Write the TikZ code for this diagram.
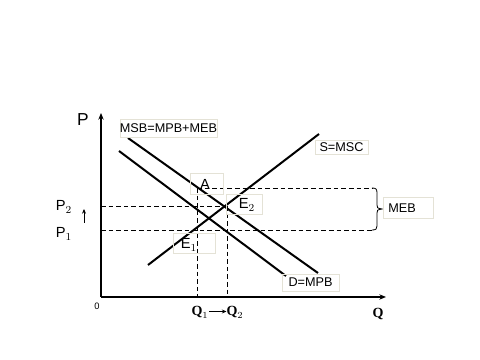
\documentclass[tikz,border=0pt]{standalone}
\usepackage{fontspec}
\setmainfont{Liberation Sans}
\newfontfamily\qfont{Liberation Serif}
\usetikzlibrary{arrows.meta}
\definecolor{boxgray}{RGB}{228,226,214}
\tikzset{
  curve/.style={line width=1.5pt},
  axis/.style={line width=1.1pt,-{Stealth[length=5pt,width=4pt]}},
  guide/.style={line width=0.6pt,dash pattern=on 3.5pt off 2.2pt},
  lbl/.style={draw=boxgray,line width=0.5pt,inner sep=0pt,font=\fontsize{9.5}{10}\selectfont},
  plain/.style={inner sep=0pt},
  qlbl/.style={inner sep=0pt,font=\qfont\bfseries\fontsize{10.5}{11}\selectfont}
}
\begin{document}
\begin{tikzpicture}[x=0.75pt,y=-0.75pt]
\useasboundingbox (0,0) rectangle (480,360);
% axes
\coordinate (O) at (101,297);
\coordinate (Ptop) at (101,113);
\coordinate (Qend) at (386,297);
\draw[axis] (O) -- (Ptop);
\draw[axis] (O) -- (Qend);
% curves
\coordinate (msbA) at (128,138);
\coordinate (msbB) at (318,273);
\coordinate (dA) at (119,151);
\coordinate (dB) at (286,276);
\coordinate (sA) at (148,265);
\coordinate (sB) at (319,134);
\draw[curve] (msbA) -- (msbB);
\draw[curve] (dA) -- (dB);
\draw[curve] (sA) -- (sB);
% guides
\coordinate (Apt) at (197,188);
\coordinate (Q1b) at (197,297);
\coordinate (E2pt) at (227,206);
\coordinate (Q2b) at (227,297);
\coordinate (P2a) at (101,206);
\coordinate (P1a) at (101,230);
\coordinate (brTop) at (372,188);
\coordinate (brBot) at (372,230);
\draw[guide] (Apt) -- (Q1b);
\draw[guide] (E2pt) -- (Q2b);
\draw[guide] (P2a) -- (E2pt);
\draw[guide] (P1a) -- (brBot);
\draw[guide] (Apt) -- (brTop);
% brace
\coordinate (brTip) at (382,209);
\draw[line width=0.6pt] (brTop) .. controls (376,188) and (377,189) .. (377,193)
  -- (377,205) .. controls (377,208) .. (brTip)
  .. controls (377,210) .. (377,213) -- (377,226)
  .. controls (377,229) and (376,230) .. (brBot);
% boxed labels
\node[lbl,minimum width=72.75pt,minimum height=13.5pt] (msb) at (168.5,128) {MSB=MPB+MEB};
\node[lbl,minimum width=39.75pt,minimum height=10.5pt] (smsc) at (341.5,147) {S=MSC};
\node[lbl,minimum width=24.75pt,minimum height=15.75pt] (labA) at (206.5,183.5) {};
\node[plain,font=\fontsize{11}{12}\selectfont] at (205,184) {A};
\node[lbl,minimum width=27pt,minimum height=15pt] (labE2) at (244,204) {};
\node[plain,font=\fontsize{11}{12}\selectfont] at (247,205) {E$_2$};
\node[lbl,minimum width=31.5pt,minimum height=15pt] (labE1) at (194,243) {};
\node[plain,font=\fontsize{11}{12}\selectfont] at (189,245) {E$_1$};
\node[lbl,minimum width=37.5pt,minimum height=15.75pt] (meb) at (408,207.5) {};
\node[plain,font=\fontsize{9.5}{10}\selectfont,anchor=west] at (388,208) {MEB};
\node[lbl,minimum width=42.75pt,minimum height=12.75pt] (dmpb) at (310.5,282.5) {D=MPB};
% axis labels
\node[plain,font=\fontsize{13}{14}\selectfont] (labP) at (83,120) {P};
\node[plain,font=\fontsize{11}{12}\selectfont] (labP2) at (64,207) {P$_2$};
\node[plain,font=\fontsize{11}{12}\selectfont] (labP1) at (64,234) {P$_1$};
\coordinate (upA) at (84,223);
\coordinate (upB) at (84,209);
\draw[line width=0.7pt,-{Stealth[length=3.5pt,width=3pt]}] (upA) -- (upB);
\node[plain,font=\fontsize{7}{8}\selectfont] (zero) at (97,306) {0};
\node[qlbl] (q1) at (200,312.5) {Q$_1$};
\node[qlbl] (q2) at (235,312.5) {Q$_2$};
\draw[line width=0.6pt,-{Stealth[length=3.5pt,width=3pt]}] (q1.east) ++(0.5,-1) coordinate (qa) -- (226.5,311.5) coordinate (qb);
\node[qlbl] (q) at (378,314) {Q};
\end{tikzpicture}
\end{document}
